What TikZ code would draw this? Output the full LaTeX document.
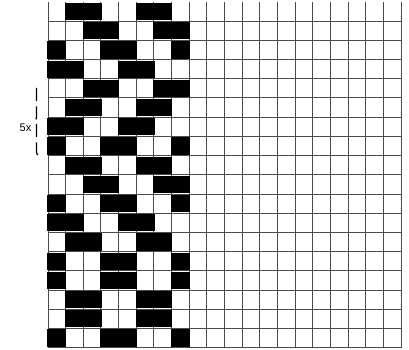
\documentclass[tikz,border=0pt]{standalone}
\usepackage{fontspec}
\setsansfont{Liberation Sans}
\usetikzlibrary{decorations.pathreplacing}
\tikzset{
  gridline/.style={gray!60!black, line width=1pt},
  cellfill/.style={fill=black}
}
\begin{document}
\begin{tikzpicture}[x=1pt, y=-1pt]
    \useasboundingbox (0,0) rectangle (409,350);
    \def\cw{17.65}
    \def\ch{19.2}

    % Raster 20 x 18
    \foreach \i in {0,...,20}
        \draw[gridline] (48+\i*\cw, 2) -- (48+\i*\cw, 2+18*\ch);
    \foreach \j in {1,...,18}
        \draw[gridline] (48, 2+\j*\ch) -- (48+20*\cw, 2+\j*\ch);

    % Schwarze Felder je Reihe
    \foreach \r/\cols in {1/{2,3,6,7}, 2/{3,4,7,8}, 3/{1,4,5,8}, 4/{1,2,5,6},
                          5/{3,4,7,8}, 6/{2,3,6,7}, 7/{1,2,5,6}, 8/{1,4,5,8},
                          9/{2,3,6,7}, 10/{3,4,7,8}, 11/{1,4,5,8}, 12/{1,2,5,6},
                          13/{2,3,6,7}, 14/{1,4,5,8}, 15/{1,4,5,8}, 16/{2,3,6,7},
                          17/{2,3,6,7}, 18/{1,4,5,8}}
        \foreach \c in \cols
            \fill[cellfill] (48+\c*\cw-\cw-0.6, 2+\r*\ch-\ch+1)
                rectangle (48+\c*\cw+0.6, 2+\r*\ch-1);

    % Wiederholung
    \draw[black, line width=1.2pt, dash pattern=on 13pt off 5.5pt,
          decorate, decoration={brace, amplitude=3pt}]
        (38, 155) -- (38, 85);
    \node[font=\sffamily\fontsize{11}{12}\selectfont] (wdh) at (25.5, 128) {5x};
\end{tikzpicture}
\end{document}
